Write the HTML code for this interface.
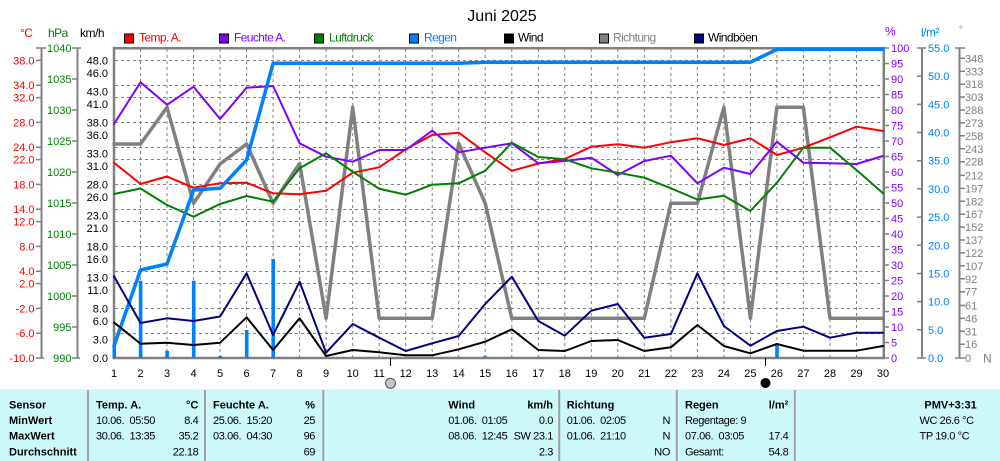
<!DOCTYPE html>
<html><head><meta charset="utf-8"><style>
html,body{margin:0;padding:0;background:#fff;}
svg{display:block;}
text{font-family:"Liberation Sans",Arial,sans-serif;}
</style></head><body>
<svg width="1000" height="461" viewBox="0 0 1000 461" xmlns="http://www.w3.org/2000/svg">
<rect x="0" y="0" width="1000" height="461" fill="#fff"/>
<text x="502" y="21" font-size="16" text-anchor="middle" fill="#000">Juni 2025</text>
<g font-size="12" letter-spacing="-0.5">
<text x="20" y="37" fill="#ff0000">°C</text>
<text x="48" y="37" fill="#008000">hPa</text>
<text x="80" y="37" fill="#000">km/h</text>
<text x="885" y="35.5" fill="#8000ff">%</text>
<text x="921" y="36.5" fill="#0080ff">l/m²</text>
<text x="959" y="33" fill="#808080" font-size="10">°</text>
</g>
<g font-size="12" letter-spacing="-0.6">
<rect x="124.5" y="34" width="9" height="9" fill="#ff0000" stroke="#000"/><text x="139" y="41.5" fill="#ff0000">Temp. A.</text>
<rect x="219.5" y="34" width="9" height="9" fill="#8000ff" stroke="#000"/><text x="234" y="41.5" fill="#8000ff">Feuchte A.</text>
<rect x="314.5" y="34" width="9" height="9" fill="#008000" stroke="#000"/><text x="329" y="41.5" fill="#008000">Luftdruck</text>
<rect x="409.5" y="34" width="9" height="9" fill="#0080ff" stroke="#000"/><text x="424" y="41.5" fill="#0080ff">Regen</text>
<rect x="504.5" y="34" width="9" height="9" fill="#000" stroke="#000"/><text x="518" y="41.5" fill="#000">Wind</text>
<rect x="599.5" y="34" width="9" height="9" fill="#808080" stroke="#000"/><text x="613" y="41.5" fill="#808080">Richtung</text>
<rect x="694.5" y="34" width="9" height="9" fill="#000080" stroke="#000"/><text x="708" y="41.5" fill="#000">Windböen</text>
</g>
<g stroke="#808080" stroke-width="1" stroke-dasharray="3,3" fill="none">
<path d="M140.5 49V357M167 49V357M193.6 49V357M220.1 49V357M246.6 49V357M273.1 49V357M299.6 49V357M326.1 49V357M352.7 49V357M379.2 49V357M405.7 49V357M432.2 49V357M458.7 49V357M485.2 49V357M511.8 49V357M538.3 49V357M564.8 49V357M591.3 49V357M617.8 49V357M644.3 49V357M670.9 49V357M697.4 49V357M723.9 49V357M750.4 49V357M776.9 49V357M803.4 49V357M830 49V357M856.5 49V357"/>
<path d="M115 60.5H882M115 85.5H882M115 97.5H882M115 122.5H882M115 147.5H882M115 159.5H882M115 184.5H882M115 209.5H882M115 221.5H882M115 246.5H882M115 271.5H882M115 283.5H882M115 308.5H882M115 333.5H882"/>
</g>
<g stroke="#808080" fill="none">
<path d="M41.5 48V358M77.5 48V358M922 48V358M959.5 48V358" stroke-width="2"/>
<path d="M36 48H46M36 358H44M72 48H81M72 358H80M917 48H926M917 358H926M955 48H965M955 358H965" stroke-width="1.5"/>
<path stroke-width="1.5" d="M36 60.4H41M36 85.2H41M36 97.6H41M36 122.4H41M36 147.2H41M36 159.6H41M36 184.4H41M36 209.2H41M36 221.6H41M36 246.4H41M36 271.2H41M36 283.6H41M36 308.4H41M36 333.2H41
M72 79H77M72 110H77M72 141H77M72 172H77M72 203H77M72 234H77M72 265H77M72 296H77M72 327H77
M883 63.5H889M883 79H889M883 94.5H889M883 110H889M883 125.5H889M883 141H889M883 156.5H889M883 172H889M883 187.5H889M883 203H889M883 218.5H889M883 234H889M883 249.5H889M883 265H889M883 280.5H889M883 296H889M883 311.5H889M883 327H889M883 342.5H889M883 358H889M883 48H889
M917 76.2H922M917 104.4H922M917 132.5H922M917 160.7H922M917 188.9H922M917 217.1H922M917 245.3H922M917 273.5H922M917 301.6H922M917 329.8H922
M960 58.3H965M960 71.3H965M960 84.2H965M960 97.1H965M960 110H965M960 122.9H965M960 135.8H965M960 148.8H965M960 161.7H965M960 175.4H965M960 188.4H965M960 201.3H965M960 214.2H965M960 227.1H965M960 240H965M960 252.9H965M960 265.9H965M960 278.8H965M960 291.7H965M960 305.5H965M960 318.4H965M960 331.3H965M960 344.2H965"/>
</g>
<g font-size="11" fill="#ff0000" text-anchor="end">
<text x="34.5" y="64.4">38.0</text><text x="34.5" y="89.2">34.0</text><text x="34.5" y="101.6">32.0</text><text x="34.5" y="126.4">28.0</text><text x="34.5" y="151.2">24.0</text><text x="34.5" y="163.6">22.0</text><text x="34.5" y="188.4">18.0</text><text x="34.5" y="213.2">14.0</text><text x="34.5" y="225.6">12.0</text><text x="34.5" y="250.4">8.0</text><text x="34.5" y="275.2">4.0</text><text x="34.5" y="287.6">2.0</text><text x="34.5" y="312.4">-2.0</text><text x="34.5" y="337.2">-6.0</text><text x="34.5" y="362">-10.0</text>
</g>
<g font-size="11" fill="#008000" text-anchor="end">
<text x="71.5" y="52">1040</text><text x="71.5" y="83">1035</text><text x="71.5" y="114">1030</text><text x="71.5" y="145">1025</text><text x="71.5" y="176">1020</text><text x="71.5" y="207">1015</text><text x="71.5" y="238">1010</text><text x="71.5" y="269">1005</text><text x="71.5" y="300">1000</text><text x="71.5" y="331">995</text><text x="71.5" y="362">990</text>
</g>
<g font-size="11" fill="#000" text-anchor="end">
<text x="108" y="64.4">48.0</text><text x="108" y="76.8">46.0</text><text x="108" y="95.4">43.0</text><text x="108" y="107.8">41.0</text><text x="108" y="126.4">38.0</text><text x="108" y="138.8">36.0</text><text x="108" y="157.4">33.0</text><text x="108" y="169.8">31.0</text><text x="108" y="188.4">28.0</text><text x="108" y="200.8">26.0</text><text x="108" y="219.4">23.0</text><text x="108" y="231.8">21.0</text><text x="108" y="250.4">18.0</text><text x="108" y="262.8">16.0</text><text x="108" y="281.4">13.0</text><text x="108" y="293.8">11.0</text><text x="108" y="312.4">8.0</text><text x="108" y="324.8">6.0</text><text x="108" y="343.4">3.0</text><text x="108" y="362">0.0</text>
</g>
<g font-size="11" fill="#8000ff">
<text x="891" y="52">100</text><text x="891" y="67.5">95</text><text x="891" y="83">90</text><text x="891" y="98.5">85</text><text x="891" y="114">80</text><text x="891" y="129.5">75</text><text x="891" y="145">70</text><text x="891" y="160.5">65</text><text x="891" y="176">60</text><text x="891" y="191.5">55</text><text x="891" y="207">50</text><text x="891" y="222.5">45</text><text x="891" y="238">40</text><text x="891" y="253.5">35</text><text x="891" y="269">30</text><text x="891" y="284.5">25</text><text x="891" y="300">20</text><text x="891" y="315.5">15</text><text x="891" y="331">10</text><text x="891" y="346.5">5</text><text x="891" y="362">0</text>
</g>
<g font-size="11" fill="#0080ff">
<text x="928" y="52">55.0</text><text x="928" y="80.2">50.0</text><text x="928" y="108.4">45.0</text><text x="928" y="136.5">40.0</text><text x="928" y="164.7">35.0</text><text x="928" y="192.9">30.0</text><text x="928" y="221.1">25.0</text><text x="928" y="249.3">20.0</text><text x="928" y="277.5">15.0</text><text x="928" y="305.6">10.0</text><text x="928" y="333.8">5.0</text><text x="928" y="362">0.0</text>
</g>
<g font-size="11" fill="#808080">
<text x="965" y="62.3">348</text><text x="965" y="75.3">333</text><text x="965" y="88.2">318</text><text x="965" y="101.1">303</text><text x="965" y="114">288</text><text x="965" y="126.9">273</text><text x="965" y="139.8">258</text><text x="965" y="152.8">243</text><text x="965" y="165.7">228</text><text x="965" y="179.4">212</text><text x="965" y="192.4">197</text><text x="965" y="205.3">182</text><text x="965" y="218.2">167</text><text x="965" y="231.1">152</text><text x="965" y="244">137</text><text x="965" y="256.9">122</text><text x="965" y="269.9">107</text><text x="965" y="282.8">92</text><text x="965" y="295.7">77</text><text x="965" y="309.5">61</text><text x="965" y="322.4">46</text><text x="965" y="335.3">31</text><text x="965" y="348.2">16</text><text x="965" y="362">0</text>
<text x="983" y="362.5" font-size="12">N</text>
</g>
<g stroke="#808080" stroke-width="2.5" fill="none">
<path d="M114 48.2H884.2M114 46.8V359.2M883.8 46.8V359.2M112.7 358H885"/>
</g>
<g fill="none" stroke-linejoin="round" stroke-linecap="round">
<polyline stroke="#808080" stroke-width="3.5" points="114,144 140.5,144 167,107.3 193.6,203.3 220.1,164 246.6,144 273.1,203.3 299.6,163.3 326.1,318.3 352.7,107.3 379.2,318.3 405.7,318.3 432.2,318.3 458.7,143.3 485.2,203.3 511.8,318.3 538.3,318.3 564.8,318.3 591.3,318.3 617.8,318.3 644.3,318.3 670.9,203.3 697.4,203.3 723.9,107.3 750.4,318.3 776.9,107.3 803.4,107.3 830,318.3 856.5,318.3 883,318.3"/>
<polyline stroke="#ff0000" stroke-width="2" points="114,162.7 140.5,184 167,176.5 193.6,187.7 220.1,183.2 246.6,182.7 273.1,193.3 299.6,194.3 326.1,190.7 352.7,172.7 379.2,167.3 405.7,149.3 432.2,135 458.7,132.7 485.2,152.3 511.8,170.8 538.3,163.5 564.8,159 591.3,146.7 617.8,144.3 644.3,147.7 670.9,142.2 697.4,138.3 723.9,145 750.4,138.3 776.9,155 803.4,147.7 830,137.3 856.5,126.7 883,131"/>
<polyline stroke="#8000ff" stroke-width="2" points="114,124 140.5,82.3 167,104.8 193.6,86.7 220.1,119 246.6,87.7 273.1,86 299.6,143.3 326.1,156.7 352.7,161.7 379.2,150 405.7,150 432.2,130.7 458.7,152.3 485.2,147.7 511.8,143.3 538.3,163.3 564.8,161 591.3,157.7 617.8,175 644.3,161 670.9,155.7 697.4,183.3 723.9,167.7 750.4,174 776.9,141.7 803.4,162.7 830,163.3 856.5,164 883,156"/>
<polyline stroke="#008000" stroke-width="2" points="114,194 140.5,188.5 167,205 193.6,216.7 220.1,204 246.6,196 273.1,201.7 299.6,168.3 326.1,153.3 352.7,171.7 379.2,188.8 405.7,194.7 432.2,184.7 458.7,183.3 485.2,170.7 511.8,142.7 538.3,157 564.8,159.3 591.3,168.3 617.8,172.7 644.3,177.7 670.9,188.3 697.4,199.5 723.9,195.8 750.4,211 776.9,182.7 803.4,147.7 830,147.7 856.5,170 883,193.3"/>
</g>
<g fill="#0080ff">
<rect x="112.5" y="345" width="3.5" height="13"/>
<rect x="138.8" y="280.7" width="3.6" height="77.3"/>
<rect x="165.3" y="350.7" width="3.6" height="7.3"/>
<rect x="191.9" y="280.7" width="3.6" height="77.3"/>
<rect x="218.4" y="356" width="3.6" height="2"/>
<rect x="244.9" y="330" width="3.6" height="28"/>
<rect x="271.4" y="259" width="3.6" height="99"/>
<rect x="483.5" y="355.8" width="3" height="2"/>
<rect x="775.2" y="344.8" width="3.6" height="13.2"/>
</g>
<g fill="none" stroke-linejoin="round" stroke-linecap="round">
<polyline stroke="#0080ff" stroke-width="3.5" points="114,346 140.5,270 167,264 193.6,190 220.1,188.3 246.6,160 273.1,63.3 458.7,63.3 485.2,62.2 750.4,62.2 776.9,49.4 883,49.4"/>
<polyline stroke="#000" stroke-width="2" points="114,322.5 140.5,343.7 167,342.7 193.6,345 220.1,342.7 246.6,317.3 273.1,350 299.6,318.3 326.1,356 352.7,350 379.2,352.3 405.7,355.3 432.2,355.3 458.7,349.3 485.2,341.7 511.8,329.3 538.3,350 564.8,351 591.3,341 617.8,340 644.3,351 670.9,347.3 697.4,325 723.9,346 750.4,353.3 776.9,344 803.4,350.7 830,350.7 856.5,350.7 883,346"/>
<polyline stroke="#000080" stroke-width="2" points="114,276.3 140.5,323 167,318.3 193.6,321 220.1,316.5 246.6,273.3 273.1,335 299.6,281.7 326.1,352.7 352.7,324 379.2,337.7 405.7,351 432.2,343.3 458.7,336 485.2,304 511.8,276.7 538.3,321 564.8,335.7 591.3,310.7 617.8,304 644.3,337.7 670.9,334 697.4,273.3 723.9,326 750.4,345.7 776.9,331 803.4,326.7 830,337.7 856.5,332.7 883,332.7"/>
</g>
<g font-size="11" fill="#000" text-anchor="middle">
<text x="114" y="377">1</text><text x="140.5" y="377">2</text><text x="167" y="377">3</text><text x="193.6" y="377">4</text><text x="220.1" y="377">5</text><text x="246.6" y="377">6</text><text x="273.1" y="377">7</text><text x="299.6" y="377">8</text><text x="326.1" y="377">9</text><text x="352.7" y="377">10</text><text x="379.2" y="377">11</text><text x="405.7" y="377">12</text><text x="432.2" y="377">13</text><text x="458.7" y="377">14</text><text x="485.2" y="377">15</text><text x="511.8" y="377">16</text><text x="538.3" y="377">17</text><text x="564.8" y="377">18</text><text x="591.3" y="377">19</text><text x="617.8" y="377">20</text><text x="644.3" y="377">21</text><text x="670.9" y="377">22</text><text x="697.4" y="377">23</text><text x="723.9" y="377">24</text><text x="750.4" y="377">25</text><text x="776.9" y="377">26</text><text x="803.4" y="377">27</text><text x="830" y="377">28</text><text x="856.5" y="377">29</text><text x="883" y="377">30</text>
</g>
<path d="M390.5 358V366M765.5 358V366" stroke="#000" stroke-width="1"/>
<circle cx="390.5" cy="383.3" r="5" fill="#c4c4c4" stroke="#555" stroke-width="1"/>
<circle cx="765.5" cy="383" r="5" fill="#000"/>
<rect x="0" y="389.5" width="1000" height="71.5" fill="#ccf9f7"/>
<g stroke="#a0a0a0" stroke-width="2">
<path d="M88 390V461M205 390V461M323.3 390V461M559.2 390V461M676.8 390V461M794.8 390V461"/>
</g>
<g font-size="11" font-weight="bold" fill="#000">
<text x="9" y="408.3">Sensor</text><text x="9" y="424">MinWert</text><text x="9" y="439.7">MaxWert</text><text x="9" y="455.5">Durchschnitt</text>
<text x="96" y="408.3">Temp. A.</text><text x="198.3" y="408.3" text-anchor="end">°C</text>
<text x="213" y="408.3">Feuchte A.</text><text x="315" y="408.3" text-anchor="end">%</text>
<text x="448.3" y="408.3">Wind</text><text x="553" y="408.3" text-anchor="end">km/h</text>
<text x="566.7" y="408.3">Richtung</text>
<text x="685" y="408.3">Regen</text><text x="788.3" y="408.3" text-anchor="end">l/m²</text>
<text x="976.7" y="408.3" text-anchor="end">PMV+3:31</text>
</g>
<g font-size="11" fill="#000" letter-spacing="-0.4">
<text x="96" y="424" xml:space="preserve">10.06.  05:50</text><text x="198.3" y="424" text-anchor="end">8.4</text>
<text x="96" y="439.7" xml:space="preserve">30.06.  13:35</text><text x="198.3" y="439.7" text-anchor="end">35.2</text>
<text x="198.3" y="455.5" text-anchor="end">22.18</text>
<text x="213" y="424" xml:space="preserve">25.06.  15:20</text><text x="315" y="424" text-anchor="end">25</text>
<text x="213" y="439.7" xml:space="preserve">03.06.  04:30</text><text x="315" y="439.7" text-anchor="end">96</text>
<text x="315" y="455.5" text-anchor="end">69</text>
<text x="448.3" y="424" xml:space="preserve">01.06.  01:05</text><text x="553" y="424" text-anchor="end">0.0</text>
<text x="448.3" y="439.7" xml:space="preserve">08.06.  12:45</text><text x="553" y="439.7" text-anchor="end">SW 23.1</text>
<text x="553" y="455.5" text-anchor="end">2.3</text>
<text x="566.7" y="424" xml:space="preserve">01.06.  02:05</text><text x="670" y="424" text-anchor="end">N</text>
<text x="566.7" y="439.7" xml:space="preserve">01.06.  21:10</text><text x="670" y="439.7" text-anchor="end">N</text>
<text x="670" y="455.5" text-anchor="end">NO</text>
<text x="685" y="424">Regentage: 9</text>
<text x="685" y="439.7" xml:space="preserve">07.06.  03:05</text><text x="788.3" y="439.7" text-anchor="end">17.4</text>
<text x="685" y="455.5">Gesamt:</text><text x="788.3" y="455.5" text-anchor="end">54.8</text>
<text x="919.5" y="424">WC 26.6 °C</text>
<text x="919.5" y="439.7">TP 19.0 °C</text>
</g>
</svg>
</body></html>
